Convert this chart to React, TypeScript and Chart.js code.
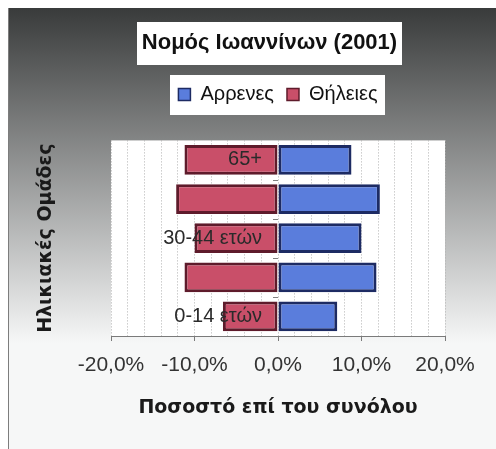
import { useEffect, useRef } from 'react';
import { Chart, registerables } from 'chart.js';

Chart.register(...registerables);

// Population share by age group, Ioannina prefecture, 2001 census (percent of total).
const ageGroups = ['0-14 ετών', '15-29 ετών', '30-44 ετών', '45-64 ετών', '65+'];
const males = [7.1, 11.8, 10.0, 12.2, 8.8];
const females = [-6.6, -11.2, -10.0, -12.2, -11.2];

const axisMin = -20;
const axisMax = 20;
const gridStep = 2;
const labelStep = 10;

const SANS = "'Liberation Sans', Arial, sans-serif";
const WIDE = "'DejaVu Sans', Verdana, sans-serif";
const TITLE_SIZE = 22;
const TITLE_PAD_TOP = 12;

const pct = (v: number) => `${v.toFixed(1).replace('.', ',')}%`;

// Gradient backdrop, white plot area and white panels behind title and legend.
const framePlugin = {
  id: 'frame',
  beforeDraw(chart: any) {
    const { ctx, width, height, chartArea: a } = chart;
    ctx.save();
    const g = ctx.createLinearGradient(0, 0, 0, 335);
    g.addColorStop(0, '#393b3b');
    g.addColorStop(1, '#f6f7f7');
    ctx.fillStyle = g;
    ctx.fillRect(0, 0, width, height);

    ctx.strokeStyle = '#7d7d7d';
    ctx.lineWidth = 1;
    ctx.beginPath();
    ctx.moveTo(0.5, 0);
    ctx.lineTo(0.5, height);
    ctx.stroke();

    ctx.fillStyle = '#ffffff';
    ctx.fillRect(a.left, a.top, a.right - a.left, a.bottom - a.top);

    const t = chart.titleBlock;
    if (t) {
      const text = chart.options.plugins.title.text;
      ctx.font = `bold ${TITLE_SIZE}px ${SANS}`;
      const tw = ctx.measureText(text).width;
      const cx = (t.left + t.right) / 2;
      const cy = t.top + TITLE_PAD_TOP + (TITLE_SIZE * 1.2) / 2;
      ctx.fillRect(Math.round(cx - tw / 2 - 5), Math.round(cy - 21), Math.round(tw + 10), 43);
    }

    const boxes = chart.legend && chart.legend.legendHitBoxes;
    if (boxes && boxes.length) {
      const first = boxes[0];
      const last = boxes[boxes.length - 1];
      const cy = first.top + first.height / 2;
      const left = first.left - 8;
      const right = last.left + last.width + 8;
      ctx.fillRect(Math.round(left), Math.round(cy - 19), Math.round(right - left), 40);
    }
    ctx.restore();
  },
};

// Category labels and small tick marks placed on the zero line.
const zeroAxisPlugin = {
  id: 'zeroAxis',
  afterDatasetsDraw(chart: any) {
    const { ctx } = chart;
    const xs = chart.scales.x;
    const ys = chart.scales.y;
    const x0 = xs.getPixelForValue(0);
    ctx.save();
    ctx.strokeStyle = '#808080';
    ctx.lineWidth = 1;
    for (let i = 0; i < ageGroups.length - 1; i++) {
      const yb = Math.round((ys.getPixelForValue(i) + ys.getPixelForValue(i + 1)) / 2) + 0.5;
      ctx.beginPath();
      ctx.moveTo(x0 - 5, yb);
      ctx.lineTo(x0, yb);
      ctx.stroke();
    }
    ctx.font = `20px ${SANS}`;
    ctx.fillStyle = '#2a2a2a';
    ctx.textAlign = 'right';
    ctx.textBaseline = 'middle';
    ageGroups.forEach((label, i) => {
      if (i % 2 === 0) ctx.fillText(label, x0 - 16, ys.getPixelForValue(i));
    });
    ctx.restore();
  },
};

export default function App() {
  const canvasRef = useRef<HTMLCanvasElement>(null);

  useEffect(() => {
    const canvas = canvasRef.current;
    if (!canvas) return;
    const baseLabels = (Chart.defaults as any).plugins.legend.labels.generateLabels;

    const chart = new Chart(canvas, {
      type: 'bar',
      data: {
        labels: ageGroups,
        datasets: [
          {
            label: 'Αρρενες',
            data: males,
            backgroundColor: '#5a7ddc',
            borderColor: '#1d2b63',
            borderWidth: 3,
            borderSkipped: false,
            xAxisID: 'x',
            yAxisID: 'y',
          },
          {
            label: 'Θήλειες',
            data: females,
            backgroundColor: '#c94f69',
            borderColor: '#5e1b2b',
            borderWidth: 3,
            borderSkipped: false,
            xAxisID: 'x',
            yAxisID: 'y',
          },
        ],
      },
      options: {
        indexAxis: 'y',
        responsive: false,
        animation: false,
        layout: { padding: { left: 86, right: 51, top: 10, bottom: 0 } },
        datasets: { bar: { barPercentage: 0.76, categoryPercentage: 1 } },
        plugins: {
          title: {
            display: true,
            text: 'Νομός Ιωαννίνων (2001)',
            color: '#111111',
            font: { family: SANS, size: TITLE_SIZE, weight: 'bold', lineHeight: 1.2 },
            padding: { top: TITLE_PAD_TOP, bottom: 15 },
          },
          legend: {
            display: true,
            position: 'top',
            fullSize: false,
            labels: {
              boxWidth: 12,
              boxHeight: 12,
              padding: 13,
              color: '#111111',
              font: { family: SANS, size: 20 },
              generateLabels: (c: any) =>
                baseLabels(c).map((item: any) => ({ ...item, lineWidth: 1.5 })),
            },
          },
          tooltip: { enabled: false },
        },
        scales: {
          x: {
            type: 'linear',
            position: 'bottom',
            min: axisMin,
            max: axisMax,
            stacked: true,
            ticks: {
              stepSize: gridStep,
              autoSkip: false,
              maxRotation: 0,
              padding: 12,
              color: '#333333',
              font: { family: SANS, size: 21 },
              callback: (v: any) => (Math.round(v) % labelStep === 0 ? pct(Number(v)) : ''),
            },
            grid: {
              color: '#b0b0b0',
              lineWidth: 1,
              drawTicks: true,
              tickLength: 5,
              tickBorderDash: [],
              tickColor: (ctx: any) =>
                ctx.tick && Math.round(ctx.tick.value) % labelStep === 0 ? '#7a7a7a' : 'rgba(0,0,0,0)',
            },
            border: { display: true, color: '#7a7a7a', width: 1, dash: [1, 2] },
            title: {
              display: true,
              text: 'Ποσοστό επί του συνόλου',
              color: '#1a1a1a',
              font: { family: WIDE, size: 19, weight: 'bold', lineHeight: 1.2 },
              padding: { top: 0, bottom: 29.6 },
            },
            afterFit: (s: any) => {
              s.height = 113;
            },
          },
          y: {
            type: 'category',
            position: 'left',
            stacked: true,
            reverse: true,
            ticks: { display: false },
            grid: { display: false, drawTicks: false },
            border: { display: false },
            title: {
              display: true,
              text: 'Ηλικιακές Ομάδες',
              color: '#1a1a1a',
              font: { family: WIDE, size: 19, weight: 'bold', lineHeight: 1.2 },
              padding: { top: -59, bottom: 0 },
            },
            afterFit: (s: any) => {
              s.width = 17;
            },
          },
          // empty strip between the legend and the plot
          gap: {
            type: 'linear',
            axis: 'x',
            position: 'top',
            display: true,
            ticks: { display: false },
            grid: { display: false, drawTicks: false },
            border: { display: false },
            afterFit: (s: any) => {
              s.height = 26;
            },
          },
        },
      } as any,
      plugins: [framePlugin, zeroAxisPlugin],
    });

    return () => chart.destroy();
  }, []);

  return (
    <div style={{ position: 'fixed', left: 8, top: 8, width: 488, height: 441 }}>
      <canvas ref={canvasRef} width={488} height={441} style={{ display: 'block' }} />
    </div>
  );
}
